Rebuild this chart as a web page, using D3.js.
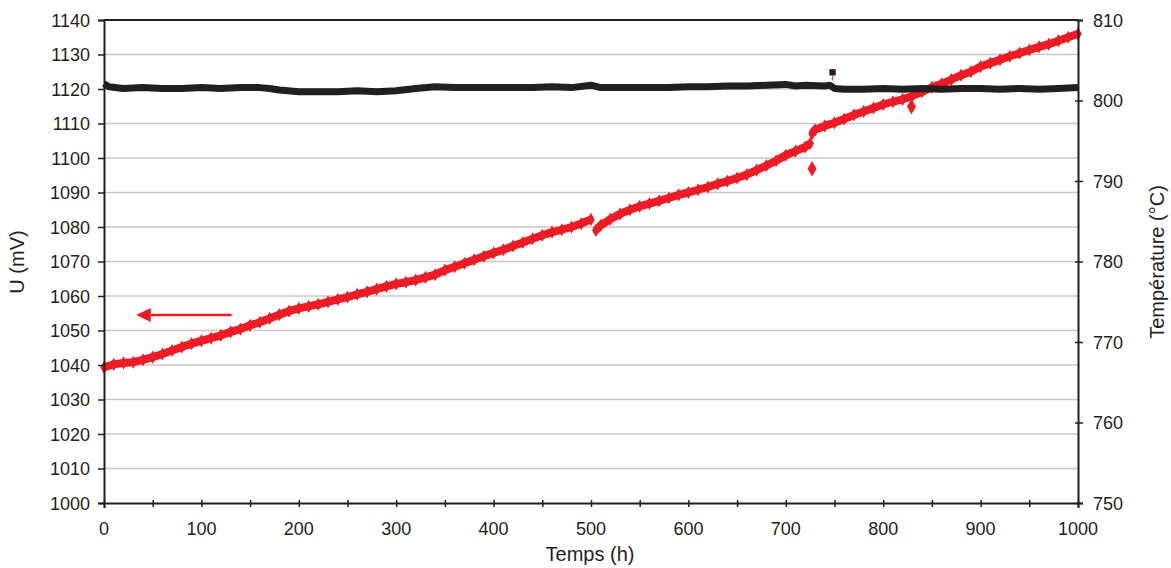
<!DOCTYPE html>
<html><head><meta charset="utf-8">
<script src="https://cdn.jsdelivr.net/npm/d3@7"></script>
<style>
body{margin:0;background:#fff;}
text{font-family:"Liberation Sans",Arial,sans-serif;fill:#231f20;}
</style></head>
<body><svg id="c" width="1171" height="568"></svg>
<script>
// ---- data ----
const xTicks = [0,100,200,300,400,500,600,700,800,900,1000];
const leftTicks = [1000,1010,1020,1030,1040,1050,1060,1070,1080,1090,1100,1110,1120,1130,1140];
const rightTicks = [750,760,770,780,790,800,810];

// U (mV), red series; null breaks the curve
const uTime = [0,10,20,30,40,50,60,70,80,90,100,110,120,130,140,150,160,170,180,190,200,210,220,230,240,250,260,270,280,290,300,310,320,330,340,350,360,370,380,390,400,410,420,430,440,450,460,470,480,490,500,
  502,
  505,510,520,530,540,550,560,570,580,590,600,610,620,630,640,650,660,670,680,690,700,710,720,725,
  726,
  727,730,740,750,760,770,780,790,800,810,820,830,840,850,860,870,880,890,900,910,920,930,940,950,960,970,980,990,1000];
const uValues = [1039.3,1040.2,1040.6,1040.8,1041.5,1042.3,1043.2,1044.2,1045.2,1046.2,1047.0,1047.8,1048.6,1049.6,1050.4,1051.5,1052.4,1053.5,1054.6,1055.6,1056.4,1057.0,1057.6,1058.3,1059.0,1059.7,1060.5,1061.2,1062.0,1062.8,1063.5,1064.0,1064.6,1065.4,1066.2,1067.5,1068.5,1069.5,1070.5,1071.5,1072.5,1073.4,1074.5,1075.5,1076.6,1077.6,1078.5,1079.2,1080.0,1081.0,1082.2,
  null,
  1079.0,1080.5,1082.3,1083.8,1085.0,1086.0,1086.8,1087.6,1088.4,1089.3,1090.0,1090.8,1091.6,1092.5,1093.3,1094.2,1095.2,1096.5,1097.8,1099.2,1100.8,1102.0,1103.2,1104.2,
  null,
  1107.0,1108.2,1109.3,1110.2,1111.3,1112.5,1113.5,1114.5,1115.5,1116.3,1117.0,1118.0,1119.2,1120.5,1121.5,1122.7,1124.0,1125.0,1126.5,1127.5,1128.5,1129.5,1130.4,1131.3,1132.2,1133.0,1134.0,1135.0,1136.0];
const uOutlierTime = [727,829];
const uOutlierValues = [1096.9,1114.9];

// Temperature (°C), black series
const tTime = [0,5,20,40,60,80,100,120,140,160,170,180,200,220,240,260,280,300,320,340,360,380,400,420,440,460,480,500,510,540,560,580,600,620,640,660,680,700,710,720,740,745,750,760,780,800,820,840,860,880,900,920,940,960,980,1000];
const tValues = [802.1,801.7,801.5,801.6,801.5,801.5,801.6,801.5,801.6,801.6,801.5,801.3,801.1,801.1,801.1,801.2,801.1,801.2,801.5,801.7,801.6,801.6,801.6,801.6,801.6,801.7,801.6,801.9,801.6,801.6,801.6,801.6,801.7,801.7,801.8,801.8,801.9,802.0,801.8,801.9,801.8,801.9,801.5,801.4,801.4,801.5,801.4,801.5,801.4,801.5,801.5,801.4,801.5,801.4,801.5,801.6];
const tOutlierTime = [748];
const tOutlierValues = [803.5];

// ---- drawing ----
const svg = d3.select("#c");
const L = 104, R = 1078, T = 20, B = 503;
const x = d3.scaleLinear().domain([0,1000]).range([L,R]);
const yL = d3.scaleLinear().domain([1000,1140]).range([B,T]);
const yR = d3.scaleLinear().domain([750,810]).range([B,T]);
const red = "#ed1c24", dark = "#231f20";

// gridlines
svg.append("g").selectAll("line").data(leftTicks.filter(d=>d>1000 && d<1140)).join("line")
  .attr("x1",L).attr("x2",R).attr("y1",d=>yL(d)).attr("y2",d=>yL(d))
  .attr("stroke","#c8c8c8").attr("stroke-width",1.5);

// red series
const uPts = uTime.map((t,i)=>({t, v:uValues[i]}));
const lineU = d3.line().defined(d=>d.v!==null).x(d=>x(d.t)).y(d=>yL(d.v));
svg.append("path").datum(uPts).attr("d",lineU).attr("fill","none")
  .attr("stroke",red).attr("stroke-width",8).attr("stroke-linejoin","round");
const dia = d3.symbol().type(d3.symbolDiamond).size(50);
svg.append("g").selectAll("path").data(uPts.filter(d=>d.v!==null)).join("path")
  .attr("d",dia).attr("transform",d=>`translate(${x(d.t)},${yL(d.v)})`).attr("fill",red);
svg.append("g").selectAll("path").data(uOutlierTime.map((t,i)=>({t,v:uOutlierValues[i]}))).join("path")
  .attr("d",d3.symbol().type(d3.symbolDiamond).size(70)).attr("transform",d=>`translate(${x(d.t)},${yL(d.v)})`).attr("fill",red);

// black series
const tPts = tTime.map((t,i)=>({t, v:tValues[i]}));
const lineT = d3.line().x(d=>x(d.t)).y(d=>yR(d.v));
svg.append("path").datum(tPts).attr("d",lineT).attr("fill","none")
  .attr("stroke",dark).attr("stroke-width",7).attr("stroke-linejoin","round");
const sq = d3.symbol().type(d3.symbolSquare).size(40);
svg.append("g").selectAll("path").data(tOutlierTime.map((t,i)=>({t,v:tOutlierValues[i]}))).join("path")
  .attr("d",sq).attr("transform",d=>`translate(${x(d.t)},${yR(d.v)})`).attr("fill",dark);
svg.append("g").selectAll("line").data(tOutlierTime.map((t,i)=>({t,v:tOutlierValues[i]}))).join("line")
  .attr("x1",d=>x(d.t)).attr("x2",d=>x(d.t)).attr("y1",d=>yR(d.v)+3).attr("y2",d=>yR(d.v)+8)
  .attr("stroke","#c0509a").attr("stroke-width",1.5);

// frame: top line
svg.append("line").attr("x1",L).attr("x2",R).attr("y1",T).attr("y2",T).attr("stroke",dark).attr("stroke-width",2);

// axes
const fs = "18px";
const gx = svg.append("g").attr("transform",`translate(0,${B})`)
  .call(d3.axisBottom(x).tickValues(d3.range(0,1001,50)).tickSize(5).tickFormat(""));
gx.select(".domain").attr("stroke",dark).attr("stroke-width",2);
gx.selectAll(".tick line").attr("stroke",dark).attr("stroke-width",1.5).attr("y1",-3).attr("y2",4);
svg.append("g").selectAll("text").data(xTicks).join("text")
  .attr("x",d=>x(d)).attr("y",535).attr("text-anchor","middle").style("font-size",fs).text(d=>d);

const gl = svg.append("g").attr("transform",`translate(${L},0)`)
  .call(d3.axisLeft(yL).tickValues(leftTicks).tickSize(6).tickPadding(8).tickFormat(d3.format("d")));
gl.select(".domain").attr("stroke",dark).attr("stroke-width",2);
gl.selectAll(".tick line").attr("stroke",dark).attr("stroke-width",1.5);
gl.selectAll(".tick text").style("font-size",fs).style("font-family","Liberation Sans, Arial, sans-serif").attr("fill",dark).attr("dy","0.36em");

const gr = svg.append("g").attr("transform",`translate(${R},0)`)
  .call(d3.axisRight(yR).tickValues(rightTicks).tickSize(5).tickPadding(10).tickFormat(d3.format("d")));
gr.select(".domain").attr("stroke",dark).attr("stroke-width",2);
gr.selectAll(".tick line").attr("stroke",dark).attr("stroke-width",1.5).attr("x1",-3);
gr.selectAll(".tick text").style("font-size",fs).style("font-family","Liberation Sans, Arial, sans-serif").attr("fill",dark).attr("dy","0.36em");

// axis titles
svg.append("text").attr("x",590).attr("y",561).attr("text-anchor","middle").style("font-size","20px").text("Temps (h)");
svg.append("text").attr("transform","translate(24,262) rotate(-90)").attr("text-anchor","middle").style("font-size","20px").text("U (mV)");
svg.append("text").attr("transform","translate(1164,262) rotate(-90)").attr("text-anchor","middle").style("font-size","20px").text("Température (°C)");

// arrow pointing to left axis
const arrowY = yL(1054.5);
svg.append("line").attr("x1",x(131)).attr("x2",x(48)).attr("y1",arrowY).attr("y2",arrowY)
  .attr("stroke",red).attr("stroke-width",2.5);
svg.append("path").attr("d",`M${x(33)},${arrowY} L${x(48)},${arrowY-7} L${x(48)},${arrowY+7} Z`).attr("fill",red);
</script></body></html>
